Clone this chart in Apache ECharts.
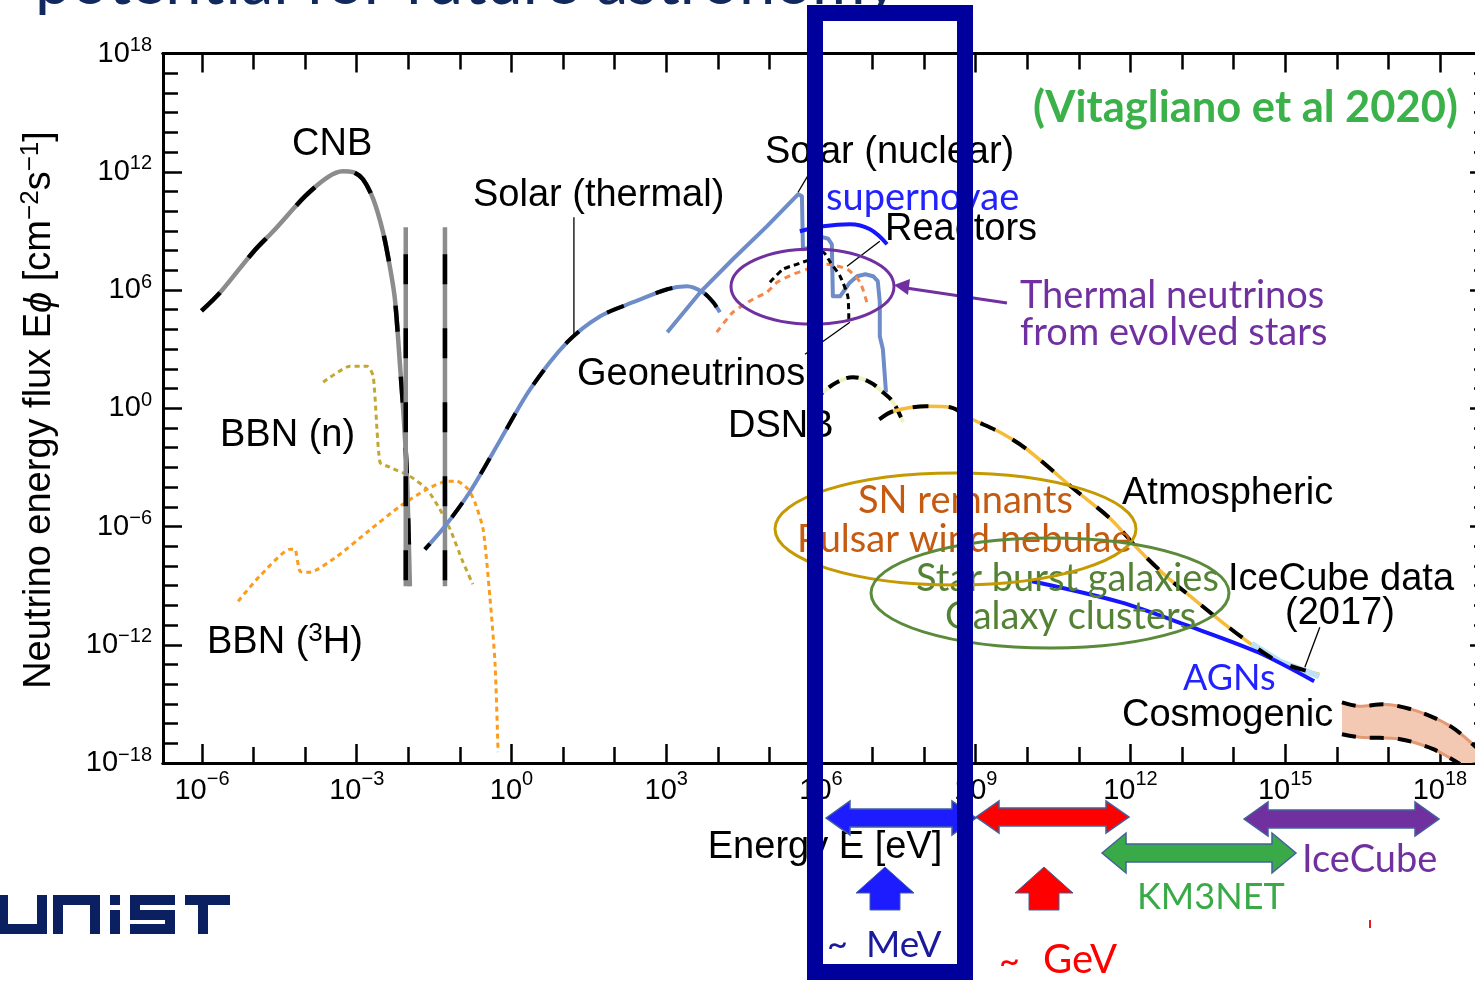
<!DOCTYPE html>
<html><head><meta charset="utf-8">
<script src="https://cdn.jsdelivr.net/npm/echarts/dist/echarts.min.js"></script>
<style>html,body{margin:0;padding:0;background:#fff}#c{width:1475px;height:981px}</style>
</head><body><div id="c"></div>
<script>
// ---- data (log10 E [eV], log10 E*phi [cm^-2 s^-1]) ----
const xTickExps = [-6,-3,0,3,6,9,12,15,18];
const yTickExps = [-18,-12,-6,0,6,12,18];
const xMinorExps = [-6,-5,-4,-3,-2,-1,0,1,2,3,4,5,6,7,8,9,10,11,12,13,14,15,16,17,18];
const yMinorExps = [-18,-17,-16,-15,-14,-13,-12,-11,-10,-9,-8,-7,-6,-5,-4,-3,-2,-1,0,1,2,3,4,5,6,7,8,9,10,11,12,13,14,15,16,17,18];

const cnb = [[-6.01,4.94],[-5.65,5.87],[-5.01,7.92],[-4.62,8.98],[-4.00,10.76],[-3.56,11.73],[-3.27,12.03],[-3.07,11.98],[-2.88,11.62],[-2.68,10.61],[-2.49,8.93],[-2.36,7.21],[-2.26,5.53],[-2.16,2.13],[-2.10,-0.05],[-2.03,-3.25],[-1.97,-9.04]];
const cnbLineA = [[-2.05,9.18],[-2.05,-9.03]];
const cnbLineB = [[-1.29,9.18],[-1.29,-9.03]];
const solarThermal = [[-1.68,-7.16],[-1.29,-5.99],[-0.80,-4.21],[-0.22,-1.62],[0.36,0.96],[1.08,3.35],[1.72,4.67],[2.36,5.38],[3.02,6.04],[3.40,6.19],[3.71,5.89],[3.91,5.38],[4.04,4.87]];
const solarNuclear = [[3.02,3.86],[3.66,5.89],[4.29,7.56],[4.95,9.23],[5.56,10.86],[5.63,10.76],[5.65,8.07],[5.85,8.2],[6.03,8.68],[6.14,8.6],[6.21,8.32],[6.23,5.68],[6.37,5.68],[6.55,6.35],[6.70,6.70],[6.86,6.80],[7.01,6.70],[7.10,6.45],[7.14,5.4],[7.14,3.65],[7.20,2.99],[7.26,0.81]];
const supernovae = [[5.59,8.98],[6.04,9.23],[6.56,9.34],[6.95,9.08],[7.28,8.32]];
const reactors = [[5.01,6.39],[5.26,7.05],[5.54,7.31],[5.79,7.56],[6.04,7.91],[6.18,7.41],[6.37,6.70],[6.52,5.68],[6.54,4.36]];
const geoneutrinos = [[3.98,3.86],[4.29,4.87],[4.68,5.53],[4.95,5.89],[5.15,6.39],[5.46,6.80],[5.73,7.05],[6.12,7.31],[6.51,7.05],[6.76,6.39],[6.91,5.17]];
const dsnb = [[5.87,0.36],[6.04,0.81],[6.31,1.32],[6.62,1.57],[6.95,1.32],[7.20,0.81],[7.40,0.30],[7.59,-0.71]];
const atmospheric = [[7.13,-0.56],[7.40,-0.15],[8.04,0.10],[8.50,0.05],[8.93,-0.56],[9.47,-1.22],[9.99,-2.08],[10.91,-4.11],[11.62,-5.63],[12.15,-7.15],[12.69,-8.52],[13.23,-9.69],[13.78,-10.86],[14.40,-12.08],[14.90,-12.89],[15.66,-13.50]];
const icecubeData = [[14.35,-11.95],[14.90,-12.85],[15.66,-13.6]];
const agn = [[10.09,-8.78],[11.80,-9.84],[13.14,-11.06],[14.47,-12.38],[15.56,-13.85]];
const cosmoUpper = [[16.10,-14.92],[16.45,-15.12],[16.90,-15.02],[17.56,-15.37],[18.20,-16.13],[18.68,-17.15],[18.95,-17.9]];
const cosmoLower = [[16.10,-16.54],[16.45,-16.69],[17.23,-16.79],[17.87,-17.30],[18.39,-18.06]];
const bbnN = [[-3.65,1.32],[-3.13,2.13],[-2.80,2.13],[-2.68,1.62],[-2.55,-2.74],[-2.36,-2.99],[-1.97,-3.45],[-1.64,-4.11],[-1.39,-5.12],[-1.19,-6.14],[-0.94,-7.81],[-0.75,-8.93]];
const bbnH3 = [[-5.30,-9.79],[-4.88,-8.52],[-4.29,-7.15],[-4.20,-7.15],[-4.10,-8.27],[-3.91,-8.32],[-3.38,-7.51],[-2.80,-6.29],[-2.16,-4.97],[-1.64,-4.11],[-1.25,-3.70],[-1.06,-3.70],[-0.84,-4.11],[-0.71,-4.77],[-0.55,-6.14],[-0.42,-9.54],[-0.32,-12.89],[-0.26,-17.45]];
// pointer lines (label leaders)
const ptrSolarThermal = [[1.21,9.69],[1.21,3.75]];
const ptrSolarNuclear = [[5.555,10.96],[5.75,11.82]];
const ptrReactors = [[6.505,7.20],[7.14,8.47]];
const ptrGeo = [[5.69,2.74],[6.56,4.36]];
const ptrIceCube = [[15.38,-13.14],[15.67,-11.11]];

const F = 'Liberation Sans, Arial, sans-serif';
const C = 'Lato, "Open Sans", sans-serif';
const xMin = -6.756, xMax = 18.95, yMin = -18, yMax = 18;

function sup(v){ v = Math.round(v); return v < 0 ? '\u2212' + (-v) : '' + v; }

function xAx(pos, ticks, len, label) {
  return {
    type:'value', min:xMin, max:xMax, position:pos, gridIndex:0,
    axisLine:{show:true, onZero:false, lineStyle:{color:'#000', width:3}},
    axisTick:{show:true, inside:true, length:len, customValues:ticks, lineStyle:{color:'#000', width:2.5}},
    axisLabel: label ? {
      show:true, customValues:xTickExps, margin:6, hideOverlap:false,
      formatter: v => '{b|10}{s|' + sup(v) + '}',
      rich:{ b:{fontSize:29, lineHeight:44, fontFamily:F, color:'#000'},
             s:{fontSize:20, lineHeight:21, verticalAlign:'top', fontFamily:F, color:'#000'} }
    } : {show:false},
    splitLine:{show:false}
  };
}
function yAx(pos, ticks, len, label) {
  return {
    type:'value', min:yMin, max:yMax, position:pos, gridIndex:0,
    axisLine:{show:true, onZero:false, lineStyle:{color:'#000', width:3}},
    axisTick:{show:true, inside:true, length:len, customValues:ticks, lineStyle:{color:'#000', width:2.5}},
    axisLabel: label ? {
      show:true, customValues:yTickExps, margin:11, hideOverlap:false,
      formatter: v => '{b|10}{s|' + sup(v) + '}',
      rich:{ b:{fontSize:29, lineHeight:36, fontFamily:F, color:'#000'},
             s:{fontSize:20, lineHeight:20, verticalAlign:'top', fontFamily:F, color:'#000'} }
    } : {show:false},
    splitLine:{show:false}
  };
}

function line(data, color, width, type, extra) {
  return Object.assign({
    type:'line', xAxisIndex:0, yAxisIndex:0, data:data, showSymbol:false, symbol:'none',
    silent:true, animation:false, smooth:false,
    lineStyle:{color:color, width:width, type:type || 'solid', cap:'butt', join:'round'}
  }, extra || {});
}
function dashed(data, color, width, dash, offset, extra) {
  const s = line(data, color, width, dash, extra);
  s.lineStyle.dashOffset = offset || 0;
  return s;
}

const series = [
  line(bbnN, '#c2a832', 3, [5,4], {smooth:0.2}),
  line(bbnH3, '#fb9c1c', 3, [5,4], {smooth:0.2}),
  line(cnb, '#8c8c8c', 4.5, 'solid', {smooth:0.3}),
  dashed(cnb, '#000', 4.5, [26,45], 0, {smooth:0.3}),
  line(cnbLineA, '#8c8c8c', 4.5),
  dashed(cnbLineA, '#000', 4.5, [30,44], 47),
  line(cnbLineB, '#8c8c8c', 4.5),
  dashed(cnbLineB, '#000', 4.5, [30,44], 47),
  line(solarThermal, '#6d8cc8', 4, 'solid', {smooth:0.3}),
  dashed(solarThermal, '#000', 4, [18,34], 10, {smooth:0.3}),
  line(solarNuclear, '#6d8cc8', 4),
  line(geoneutrinos, '#f4874b', 3, [6,5], {smooth:0.2}),
  line(reactors, '#000', 3, [6,4], {smooth:0.2}),
  line(supernovae, '#1515ff', 4, 'solid', {smooth:0.4}),
  line(dsnb, '#eef2c4', 4, 'solid', {smooth:0.4}),
  dashed(dsnb, '#000', 4, [12,8], 0, {smooth:0.4}),
  line(atmospheric, '#f7bb3a', 3.5, 'solid', {smooth:0.3}),
  line(icecubeData, '#bde0f2', 6),
  line(agn, '#1515ff', 4, 'solid', {smooth:0.3}),
  dashed(atmospheric, '#000', 4, [16,20], 0, {smooth:0.3}),
  {
    type:'custom', coordinateSystem:'cartesian2d', xAxisIndex:0, yAxisIndex:0, clip:true, silent:true,
    data:[[cosmoUpper[0][0], cosmoUpper[0][1]]],
    renderItem:(params, api) => ({
      type:'polygon',
      shape:{points: cosmoUpper.concat(cosmoLower.slice().reverse()).map(p => api.coord(p))},
      style:{fill:'#f3c9b3'}
    })
  },
  line(cosmoUpper, '#e39a74', 3, 'solid', {smooth:0.3}),
  dashed(cosmoUpper, '#000', 4, [14,14], 0, {smooth:0.3}),
  line(cosmoLower, '#e39a74', 3, 'solid', {smooth:0.3}),
  dashed(cosmoLower, '#000', 4, [14,14], 0, {smooth:0.3}),
  line(ptrSolarThermal, '#000', 1.3),
  line(ptrSolarNuclear, '#000', 1.3),
  line(ptrReactors, '#000', 1.3),
  line(ptrGeo, '#000', 1.3),
  line(ptrIceCube, '#000', 1.3)
];

function txt(x, y, s, font, color, extra) {
  return Object.assign({
    type:'text', x:x, y:y, z:5, silent:true,
    style:{text:s, font:font, fill:color, align:'left', verticalAlign:'middle', textAlign:'left', textVerticalAlign:'middle'}
  }, extra || {});
}
function dblArrow(x1, x2, yc, h, H, L, color) {
  return {type:'polygon', z:8, silent:true, shape:{points:[[x1,yc],[x1+L,yc-H],[x1+L,yc-h],[x2-L,yc-h],[x2-L,yc-H],[x2,yc],[x2-L,yc+H],[x2-L,yc+h],[x1+L,yc+h],[x1+L,yc+H]]},
    style:{fill:color, stroke:'#41619c', lineWidth:1.5}};
}
function upArrow(xc, yt, yb, W, w, ye, color) {
  return {type:'polygon', z:8, silent:true, shape:{points:[[xc,yt],[xc+W,yb],[xc+w,yb],[xc+w,ye],[xc-w,ye],[xc-w,yb],[xc-W,yb]]},
    style:{fill:color, stroke:'#41619c', lineWidth:1}};
}
function rect(x, y, w, h, color) {
  return {type:'rect', z:8, silent:true, shape:{x:x, y:y, width:w, height:h}, style:{fill:color}};
}

const A38 = '38px ' + F;
const L38 = '38px ' + C;
const navy = '#0b2060';

const graphics = [
  // cut-off slide title
  txt(35, -17, 'potential for future astronomy', '65px ' + C, '#12295e'),
  // axis titles
  {type:'text', x:40, y:410, rotation:Math.PI/2, z:5, silent:true,
    style:{text:'Neutrino energy flux E{i|\u03d5} [cm{s|\u22122}s{s|\u22121}]', font:A38, fill:'#000',
      align:'center', verticalAlign:'middle', textAlign:'center', textVerticalAlign:'middle', lineHeight:44,
      rich:{ i:{fontSize:38, fontFamily:F, fontStyle:'italic', lineHeight:44},
             s:{fontSize:26, fontFamily:F, lineHeight:26, verticalAlign:'top'} }}},
  txt(825, 848, 'Energy E [eV]', A38, '#000', {style:{text:'Energy E [eV]', font:A38, fill:'#000', align:'center', verticalAlign:'middle', textAlign:'center', textVerticalAlign:'middle'}}),
  // curve labels
  txt(292, 145, 'CNB', A38, '#000'),
  txt(473, 196, 'Solar (thermal)', A38, '#000'),
  txt(765, 153, 'Solar (nuclear)', A38, '#000'),
  txt(826, 198, 'supernovae', L38, '#2222ff'),
  txt(885, 230, 'Reactors', A38, '#000'),
  txt(577, 375, 'Geoneutrinos', A38, '#000'),
  txt(728, 427, 'DSNB', A38, '#000'),
  txt(220, 436, 'BBN (n)', A38, '#000'),
  {type:'text', x:207, y:643, z:5, silent:true,
    style:{text:'BBN ({s|3}H)', font:A38, fill:'#000', align:'left', verticalAlign:'middle', textAlign:'left', textVerticalAlign:'middle', lineHeight:44,
      rich:{s:{fontSize:26, fontFamily:F, lineHeight:26, verticalAlign:'top'}}}},
  txt(1122, 494, 'Atmospheric', A38, '#000'),
  txt(1228, 580, 'IceCube data', A38, '#000'),
  txt(1285, 614, '(2017)', A38, '#000'),
  txt(1183, 678, 'AGNs', '36px ' + C, '#2222ff'),
  txt(1122, 716, 'Cosmogenic', A38, '#000'),
  txt(1033, 108, '(Vitagliano et al 2020)', 'bold 43.5px ' + C, '#3bb149'),
  txt(1020, 296, 'Thermal neutrinos', L38, '#7030a0'),
  txt(1020, 333, 'from evolved stars', L38, '#7030a0'),
  txt(858, 501, 'SN remnants', L38, '#c55a11'),
  txt(797, 540, 'Pulsar wind nebulae', L38, '#c55a11'),
  txt(916, 579, 'Star burst galaxies', L38, '#548235'),
  txt(945, 617, 'Galaxy clusters', L38, '#548235'),
  // ellipses
  {type:'ellipse', z:10, silent:true, shape:{cx:812.5, cy:286.5, rx:81.5, ry:37.5}, style:{fill:null, stroke:'#7030a0', lineWidth:3}},
  {type:'ellipse', z:10, silent:true, shape:{cx:955.5, cy:529, rx:180.5, ry:56}, style:{fill:null, stroke:'#c49a00', lineWidth:3}},
  {type:'ellipse', z:10, silent:true, shape:{cx:1050, cy:593, rx:179, ry:55}, style:{fill:null, stroke:'#5a8a3a', lineWidth:3}},
  // purple pointer arrow
  {type:'line', z:10, silent:true, shape:{x1:1007, y1:303, x2:906, y2:288}, style:{stroke:'#7030a0', lineWidth:3}},
  {type:'polygon', z:10, silent:true, shape:{points:[[894,285],[910,279],[908,295]]}, style:{fill:'#7030a0'}},
  // energy-range arrows
  dblArrow(826, 976, 818, 9, 17, 24, '#1c1cff'),
  dblArrow(976, 1129, 817, 9, 16, 23, '#ff0000'),
  dblArrow(1244, 1439, 819, 9, 17, 24, '#7030a0'),
  dblArrow(1102, 1296, 853, 9, 20, 24, '#3aaa48'),
  upArrow(885, 867, 893, 29, 15, 910, '#1c1cff'),
  upArrow(1044, 867, 893, 29, 15, 910, '#ff0000'),
  txt(1302, 860, 'IceCube', L38, '#7030a0'),
  txt(1137, 897, 'KM3NET', '36px ' + C, '#3aaa48'),
  txt(827, 945, '~', '36px ' + C, '#1a1a9a'),
  txt(866, 945, 'MeV', '37px ' + C, '#1a1a9a'),
  txt(999, 962, '~', '36px ' + C, '#ff0000'),
  txt(1043, 960, 'GeV', '40px ' + C, '#ff0000'),
  rect(1369, 920, 2, 8, '#e02020'),
  // UNIST logo (blocky)
  rect(0, 895, 8, 39, navy), rect(0, 924, 47, 10, navy), rect(37, 895, 10, 39, navy),
  rect(53, 895, 47, 10, navy), rect(53, 895, 10, 39, navy), rect(90, 895, 10, 39, navy),
  rect(110, 895, 10, 10, navy), rect(110, 910, 10, 24, navy),
  rect(130, 895, 45, 10, navy), rect(130, 895, 10, 25, navy), rect(130, 910, 45, 10, navy), rect(165, 910, 10, 24, navy), rect(130, 924, 45, 10, navy),
  rect(185, 895, 45, 10, navy), rect(198, 895, 10, 39, navy),
  // highlight box
  {type:'rect', z:100, silent:true, shape:{x:815, y:13, width:150, height:959}, style:{fill:null, stroke:'#00009c', lineWidth:16}}
];

const chart = echarts.init(document.getElementById('c'), null, {renderer:'canvas'});
chart.setOption({
  backgroundColor:'#fff',
  animation:false,
  grid:{left:163, top:53.5, width:1326, height:709.5, containLabel:false, outerBoundsMode:'none'},
  xAxis:[ xAx('bottom', xMinorExps, 16, true), xAx('bottom', xTickExps, 19, false), xAx('top', xMinorExps, 16, false), xAx('top', xTickExps, 19, false) ],
  yAxis:[ yAx('left', yMinorExps, 15, true), yAx('left', yTickExps, 19, false), yAx('right', yMinorExps, 15, false), yAx('right', yTickExps, 19, false) ],
  series: series,
  graphic: graphics
});
</script>
</body></html>
